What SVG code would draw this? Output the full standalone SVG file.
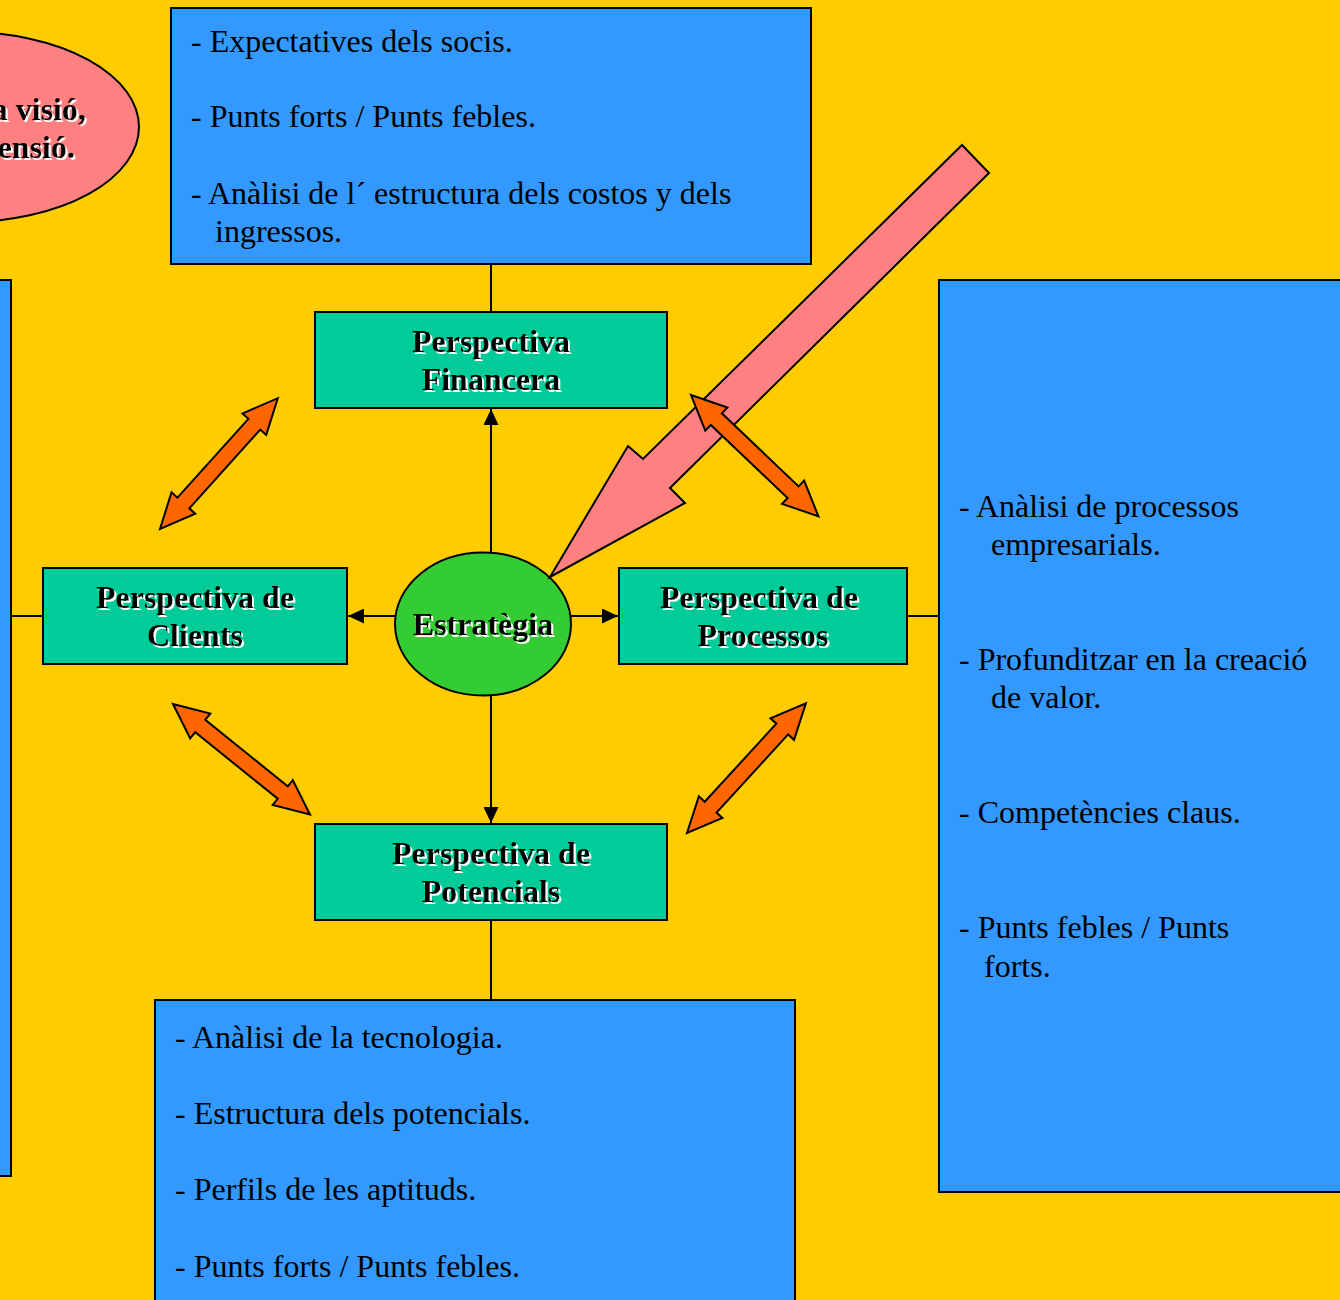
<svg xmlns="http://www.w3.org/2000/svg" xmlns:xlink="http://www.w3.org/1999/xlink" width="1340" height="1300" viewBox="0 0 1340 1300">
  <defs>
    <style>
      .box { fill: #3399FF; stroke: #000; stroke-width: 2; }
      .node { fill: #00CC99; stroke: #000; stroke-width: 2; }
      .body { font-family: "Liberation Serif", "Times New Roman", serif; font-size: 32px; fill: #000; }
      .lbl { font-family: "Liberation Serif", "Times New Roman", serif; font-size: 32px; font-weight: bold; fill: #000; text-anchor: middle; filter: url(#emboss); }
      .edge { stroke: #000; stroke-width: 2; fill: none; }
      .dbl { fill: #FF6600; stroke: #000; stroke-width: 2; stroke-linejoin: miter; }
    </style>
    <!-- white offset copy behind the bold labels -->
    <filter id="emboss" x="-5%" y="-20%" width="110%" height="140%">
      <feFlood flood-color="#FFFFFF" result="white"/>
      <feComposite in="white" in2="SourceAlpha" operator="in" result="mask"/>
      <feOffset in="mask" dx="1.5" dy="1.5" result="shadow"/>
      <feMerge>
        <feMergeNode in="shadow"/>
        <feMergeNode in="SourceGraphic"/>
      </feMerge>
    </filter>
    <marker id="head" viewBox="0 0 16 15" refX="16" refY="7.5" markerWidth="16" markerHeight="15" markerUnits="userSpaceOnUse" orient="auto">
      <path d="M0,0 L16,7.5 L0,15 Z" fill="#000"/>
    </marker>
    <!-- two-headed block arrow, laid out along the x axis -->
    <path id="twoway" d="M0,0 L35,-16 L35,-8 L141,-8 L141,-16 L176,0 L141,16 L141,8 L35,8 L35,16 Z"/>
  </defs>

  <rect x="0" y="0" width="1340" height="1300" fill="#FFCC00"/>

  <!-- connectors -->
  <g id="connectors">
    <line class="edge" x1="491" y1="264" x2="491" y2="312"/>
    <line class="edge" x1="491" y1="920" x2="491" y2="1000"/>
    <line class="edge" x1="43" y1="616" x2="11" y2="616"/>
    <line class="edge" x1="907" y1="616" x2="939" y2="616"/>
    <line class="edge" x1="491" y1="553" x2="491" y2="409" marker-end="url(#head)"/>
    <line class="edge" x1="396" y1="616" x2="348" y2="616" marker-end="url(#head)"/>
    <line class="edge" x1="570" y1="616" x2="618" y2="616" marker-end="url(#head)"/>
    <line class="edge" x1="491" y1="696" x2="491" y2="823" marker-end="url(#head)"/>
  </g>

  <!-- vision ellipse, top left -->
  <g id="vision">
    <ellipse cx="-34" cy="127" rx="173" ry="95" fill="#FF8080" stroke="#000" stroke-width="2"/>
    <text class="lbl" style="text-anchor:end" x="86" y="120">a visió,</text>
    <text class="lbl" style="text-anchor:end" x="75" y="158">ensió.</text>
  </g>

  <!-- financial notes -->
  <g id="notes-financial">
    <rect class="box" x="171" y="8" width="640" height="256"/>
    <text class="body" x="191" y="52">- Expectatives dels socis.</text>
    <text class="body" x="191" y="127">- Punts forts / Punts febles.</text>
    <text class="body" x="191" y="204">- Anàlisi de l´ estructura dels costos y dels</text>
    <text class="body" x="215" y="242">ingressos.</text>
  </g>

  <!-- client notes (left, mostly off-canvas) -->
  <g id="notes-clients">
    <rect class="box" x="-20" y="280" width="31" height="896"/>
  </g>

  <!-- process notes -->
  <g id="notes-process">
    <rect class="box" x="939" y="280" width="420" height="912"/>
    <text class="body" x="959" y="517">- Anàlisi de processos</text>
    <text class="body" x="991" y="555">empresarials.</text>
    <text class="body" x="959" y="670">- Profunditzar en la creació</text>
    <text class="body" x="991" y="708">de valor.</text>
    <text class="body" x="959" y="823">- Competències claus.</text>
    <text class="body" x="959" y="938">- Punts febles / Punts</text>
    <text class="body" x="984" y="977">forts.</text>
  </g>

  <!-- potential notes -->
  <g id="notes-potential">
    <rect class="box" x="155" y="1000" width="640" height="320"/>
    <text class="body" x="175" y="1048">- Anàlisi de la tecnologia.</text>
    <text class="body" x="175" y="1124">- Estructura dels potencials.</text>
    <text class="body" x="175" y="1200">- Perfils de les aptituds.</text>
    <text class="body" x="175" y="1277">- Punts forts / Punts febles.</text>
  </g>

  <g id="node-financera">
    <rect class="node" x="315" y="312" width="352" height="96"/>
    <text class="lbl" x="491" y="352">Perspectiva</text>
    <text class="lbl" x="491" y="390">Financera</text>
  </g>

  <g id="node-clients">
    <rect class="node" x="43" y="568" width="304" height="96"/>
    <text class="lbl" x="195" y="608">Perspectiva de</text>
    <text class="lbl" x="195" y="646">Clients</text>
  </g>

  <g id="node-processos">
    <rect class="node" x="619" y="568" width="288" height="96"/>
    <text class="lbl" x="759" y="608">Perspectiva de</text>
    <text class="lbl" x="763" y="646">Processos</text>
  </g>

  <g id="node-potencials">
    <rect class="node" x="315" y="824" width="352" height="96"/>
    <text class="lbl" x="491" y="864">Perspectiva de</text>
    <text class="lbl" x="491" y="902">Potencials</text>
  </g>

  <g id="node-estrategia">
    <ellipse cx="483" cy="624" rx="88" ry="71.5" fill="#33CC33" stroke="#000" stroke-width="2"/>
    <text class="lbl" x="483" y="635">Estratègia</text>
  </g>

  <!-- large arrow pointing at the strategy -->
  <g id="strategy-arrow">
    <polygon points="962,145 989,173 670,488 685,503 550,577 628,446 643,459" fill="#FF8080" stroke="#000" stroke-width="2" stroke-linejoin="miter"/>
  </g>

  <!-- mutual relations between perspectives -->
  <g id="relations">
    <use xlink:href="#twoway" href="#twoway" class="dbl" transform="translate(160,529) rotate(-48)"/>
    <use xlink:href="#twoway" href="#twoway" class="dbl" transform="translate(691,395) rotate(43.6)"/>
    <use xlink:href="#twoway" href="#twoway" class="dbl" transform="translate(173,704) rotate(38.9)"/>
    <use xlink:href="#twoway" href="#twoway" class="dbl" transform="translate(687,833) rotate(-47.5)"/>
  </g>
</svg>
